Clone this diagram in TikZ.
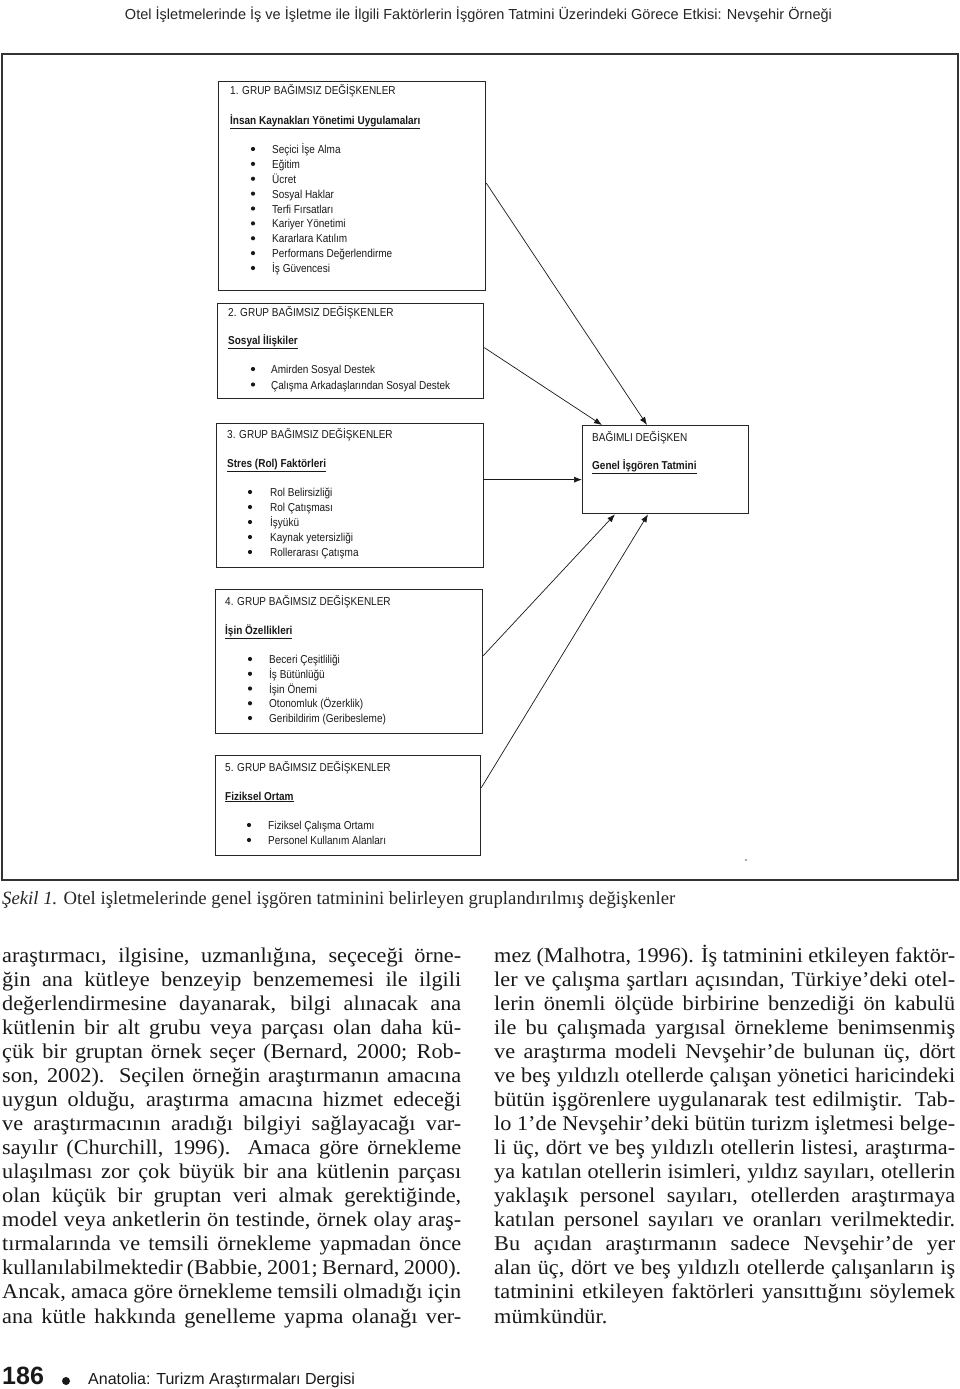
\documentclass[tikz,border=0pt]{standalone}
\usepackage{fontspec}
\setmainfont{Liberation Serif}
\newfontfamily\figfont[FakeStretch=0.87]{Liberation Sans}
\newfontfamily\hdfont{Liberation Sans}
\newfontfamily\bodyfont[FakeStretch=1.06]{Liberation Serif}
\usetikzlibrary{arrows.meta}
\newcommand\jl[2]{\hbox to #1{\spaceskip=0.25em plus 1fil minus 0.2em\relax #2}}
\tikzset{
  grpbox/.style={draw=black!85, line width=1.3pt, anchor=north west, inner sep=0pt},
  frame/.style={draw=black!80, line width=1.2pt},
  ftxt/.style={font=\figfont\fontsize{11.5}{14}\selectfont, anchor=base west, inner sep=0pt, text=black!90},
  fhead/.style={font=\figfont\bfseries\fontsize{11.5}{14}\selectfont, anchor=base west, inner sep=0pt, text=black!90},
  arr/.style={draw=black!90, line width=0.7pt, -{Latex[length=8pt,width=6pt]}},
  btxt/.style={font=\bodyfont\fontsize{21}{24}\selectfont, anchor=base west, inner sep=0pt, text=black!90},
  blt/.style={fill=black!90}
}
\begin{document}
\begin{tikzpicture}[x=1pt,y=-1pt]
\useasboundingbox (0,0) rectangle (960,1389);
\fill[white] (0,0) rectangle (960,1389);

% running header
\node[inner sep=0pt, text=black!85] (hdr) at (478.5,15) {\resizebox{707pt}{!}{\hdfont\fontsize{13}{15}\selectfont Otel İşletmelerinde İş ve İşletme ile İlgili Faktörlerin İşgören Tatmini Üzerindeki Görece Etkisi: Nevşehir Örneği}};

% figure frame
\draw[frame] (2,54) rectangle (958,880);

% group 1
\node[grpbox, minimum width=267pt, minimum height=209pt] (g1) at (218,81) {};
\node[ftxt] (g1t) at (230,95) {1. GRUP BAĞIMSIZ DEĞİŞKENLER};
\node[fhead] (g1h) at (230,124) {\underline{İnsan Kaynakları Yönetimi Uygulamaları}};
\foreach \t [count=\i] in {Seçici İşe Alma, Eğitim, Ücret, Sosyal Haklar, Terfi Fırsatları, Kariyer Yönetimi, Kararlara Katılım, Performans Değerlendirme, İş Güvencesi}{
  \fill[blt] (253,{149+14.875*(\i-1)}) circle (2.1pt);
  \node[ftxt] (g1i\i) at (272,{153.5+14.875*(\i-1)}) {\t};
}

% group 2
\node[grpbox, minimum width=266pt, minimum height=95pt] (g2) at (217,303) {};
\node[ftxt] (g2t) at (228,316) {2. GRUP BAĞIMSIZ DEĞİŞKENLER};
\node[fhead] (g2h) at (228,344) {\underline{Sosyal İlişkiler}};
\foreach \t [count=\i] in {Amirden Sosyal Destek, Çalışma Arkadaşlarından Sosyal Destek}{
  \fill[blt] (253,{369+15.5*(\i-1)}) circle (2.1pt);
  \node[ftxt] (g2i\i) at (271,{373.5+15.5*(\i-1)}) {\t};
}

% group 3
\node[grpbox, minimum width=267pt, minimum height=144pt] (g3) at (216,423) {};
\node[ftxt] (g3t) at (227,438) {3. GRUP BAĞIMSIZ DEĞİŞKENLER};
\node[fhead] (g3h) at (227,467) {\underline{Stres (Rol) Faktörleri}};
\foreach \t [count=\i] in {Rol Belirsizliği, Rol Çatışması, İşyükü, Kaynak yetersizliği, Rollerarası Çatışma}{
  \fill[blt] (250,{492+15*(\i-1)}) circle (2.1pt);
  \node[ftxt] (g3i\i) at (270,{496.5+15*(\i-1)}) {\t};
}

% group 4
\node[grpbox, minimum width=267pt, minimum height=144pt] (g4) at (215,589) {};
\node[ftxt] (g4t) at (225,605) {4. GRUP BAĞIMSIZ DEĞİŞKENLER};
\node[fhead] (g4h) at (225,634) {\underline{İşin Özellikleri}};
\foreach \t [count=\i] in {Beceri Çeşitliliği, İş Bütünlüğü, İşin Önemi, Otonomluk (Özerklik), Geribildirim (Geribesleme)}{
  \fill[blt] (250,{659+14.75*(\i-1)}) circle (2.1pt);
  \node[ftxt] (g4i\i) at (269,{663.5+14.75*(\i-1)}) {\t};
}

% group 5
\node[grpbox, minimum width=265pt, minimum height=100pt] (g5) at (215,755) {};
\node[ftxt] (g5t) at (225,771) {5. GRUP BAĞIMSIZ DEĞİŞKENLER};
\node[fhead] (g5h) at (225,800) {\underline{Fiziksel Ortam}};
\foreach \t [count=\i] in {Fiziksel Çalışma Ortamı, Personel Kullanım Alanları}{
  \fill[blt] (249,{825+15*(\i-1)}) circle (2.1pt);
  \node[ftxt] (g5i\i) at (268,{829.5+15*(\i-1)}) {\t};
}

% dependent variable
\node[grpbox, minimum width=166pt, minimum height=88pt] (dep) at (582,425) {};
\node[ftxt] (dept) at (592,441) {BAĞIMLI DEĞİŞKEN};
\node[fhead] (deph) at (592,469) {\underline{Genel İşgören Tatmini}};

% connectors
\coordinate (d1) at ([xshift=65pt]dep.north west);
\coordinate (d2) at ([xshift=20pt]dep.north west);
\coordinate (d3) at ([yshift=-10pt]dep.west);
\coordinate (d4) at ([xshift=33pt]dep.south west);
\coordinate (d5) at ([xshift=66pt]dep.south west);
\draw[arr] ([yshift=3pt]g1.east) -- (d1);
\draw[arr] ([yshift=3.5pt]g2.east) -- (d2);
\draw[arr] (g3.east |- d3) -- (d3);
\draw[arr] ([yshift=6pt]g4.east) -- (d4);
\draw[arr] ([yshift=18pt]g5.east) -- (d5);
\fill[black!70] (746,860) circle (0.8pt);

% caption
\node[inner sep=0pt, anchor=west, text=black!85] (cap) at (2,900) {\resizebox{673pt}{!}{\fontsize{16}{18}\selectfont\textit{Şekil 1.} Otel işletmelerinde genel işgören tatminini belirleyen gruplandırılmış değişkenler}};

% left column
\foreach \t [count=\i] in {
{araştırmacı, ilgisine, uzmanlığına, seçeceği örne-},
{ğin ana kütleye benzeyip benzememesi ile ilgili},
{değerlendirmesine dayanarak, bilgi alınacak ana},
{kütlenin bir alt grubu veya parçası olan daha kü-},
{çük bir gruptan örnek seçer (Bernard, 2000; Rob-},
{son, 2002). Seçilen örneğin araştırmanın amacına},
{uygun olduğu, araştırma amacına hizmet edeceği},
{ve araştırmacının aradığı bilgiyi sağlayacağı var-},
{sayılır (Churchill, 1996). Amaca göre örnekleme},
{ulaşılması zor çok büyük bir ana kütlenin parçası},
{olan küçük bir gruptan veri almak gerektiğinde,},
{model veya anketlerin ön testinde, örnek olay araş-},
{tırmalarında ve temsili örnekleme yapmadan önce},
{kullanılabilmektedir (Babbie, 2001; Bernard, 2000).},
{Ancak, amaca göre örnekleme temsili olmadığı için},
{ana kütle hakkında genelleme yapma olanağı ver-}}{
  \node[btxt] (l\i) at (2,{962+24.07*(\i-1)}) {\jl{459pt}{\t}};
}

% right column
\foreach \t [count=\i] in {
{mez (Malhotra, 1996). İş tatminini etkileyen faktör-},
{ler ve çalışma şartları açısından, Türkiye’deki otel-},
{lerin önemli ölçüde birbirine benzediği ön kabulü},
{ile bu çalışmada yargısal örnekleme benimsenmiş},
{ve araştırma modeli Nevşehir’de bulunan üç, dört},
{ve beş yıldızlı otellerde çalışan yönetici haricindeki},
{bütün işgörenlere uygulanarak test edilmiştir. Tab-},
{lo 1’de Nevşehir’deki bütün turizm işletmesi belge-},
{li üç, dört ve beş yıldızlı otellerin listesi, araştırma-},
{ya katılan otellerin isimleri, yıldız sayıları, otellerin},
{yaklaşık personel sayıları, otellerden araştırmaya},
{katılan personel sayıları ve oranları verilmektedir.},
{Bu açıdan araştırmanın sadece Nevşehir’de yer},
{alan üç, dört ve beş yıldızlı otellerde çalışanların iş},
{tatminini etkileyen faktörleri yansıttığını söylemek}}{
  \node[btxt] (r\i) at (494,{962+24.07*(\i-1)}) {\jl{461pt}{\t}};
}
\node[btxt] (r16) at (494,{962+24.07*15}) {mümkündür.};

% footer
\node[inner sep=0pt, anchor=base west, font=\hdfont\bfseries\fontsize{25}{28}\selectfont, text=black!90] (pg) at (2,1384) {186};
\fill[black!90] (66,1381) circle (4pt);
\node[inner sep=0pt, anchor=base west, font=\hdfont\fontsize{16}{19}\selectfont, text=black!90] (jn) at (88,1384) {Anatolia: Turizm Araştırmaları Dergisi};
\end{tikzpicture}
\end{document}
